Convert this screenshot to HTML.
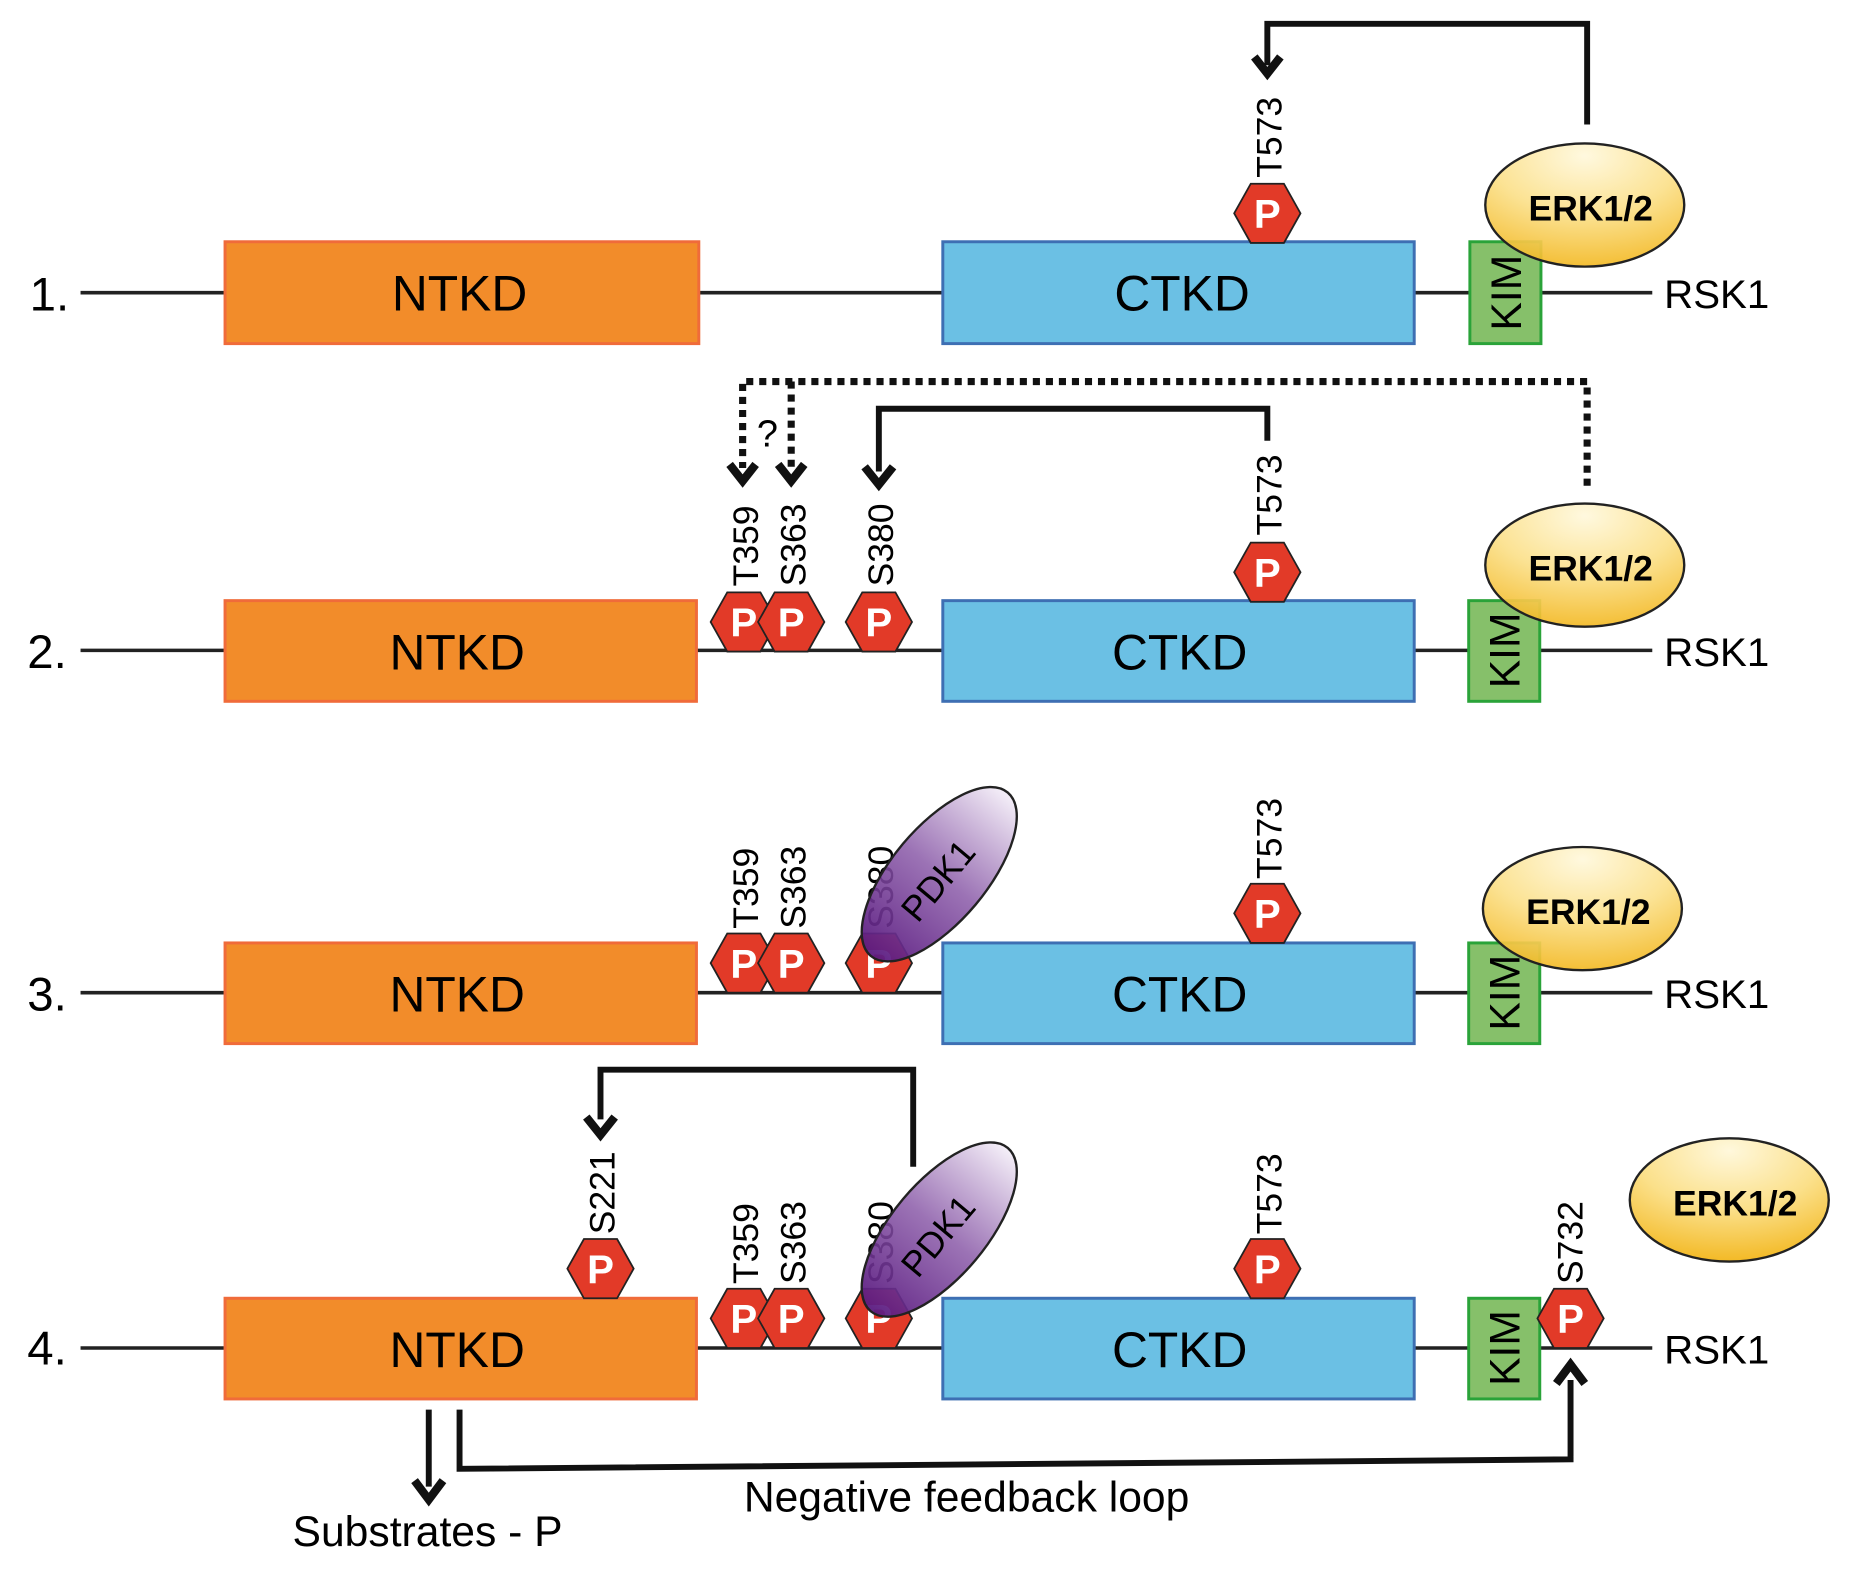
<!DOCTYPE html>
<html><head><meta charset="utf-8"><style>
html,body{margin:0;padding:0;background:#fff;}
svg{display:block;}
text{font-family:"Liberation Sans",sans-serif;}
</style></head><body>
<svg width="1856" height="1572" viewBox="0 0 1567 1327" xmlns="http://www.w3.org/2000/svg">
<defs>
<radialGradient id="erk" cx="0.5" cy="0.1" r="0.95">
<stop offset="0" stop-color="#fff8dc"/><stop offset="0.5" stop-color="#fbe08a"/><stop offset="1" stop-color="#f2b51a"/></radialGradient>
<linearGradient id="pdk" x1="0" y1="0" x2="1" y2="0">
<stop offset="0" stop-color="#5a1a80" stop-opacity="0.95"/><stop offset="0.5" stop-color="#8a5aa8" stop-opacity="0.85"/><stop offset="1" stop-color="#f4eef8" stop-opacity="0.9"/></linearGradient>
<symbol id="hex" viewBox="-30 -27 60 54" overflow="visible">
<polygon points="-28,0 -14,-25 14,-25 28,0 14,25 -14,25" fill="#e23a28" stroke="#222" stroke-width="1.5"/>
<text x="0" y="12" text-anchor="middle" font-size="34" font-weight="bold" fill="#fff">P</text>
</symbol>
</defs>
<g stroke="#222" stroke-width="3">
<line x1="68" y1="247" x2="1395" y2="247"/>
<line x1="68" y1="549" x2="1395" y2="549"/>
<line x1="68" y1="838" x2="1395" y2="838"/>
<line x1="68" y1="1138" x2="1395" y2="1138"/>
</g>
<g font-size="40">
<text x="25" y="262">1.</text><text x="23" y="564">2.</text><text x="23" y="853">3.</text><text x="23" y="1152">4.</text>
</g>
<g font-size="34">
<text x="1405" y="260">RSK1</text><text x="1405" y="562">RSK1</text><text x="1405" y="851">RSK1</text><text x="1405" y="1151">RSK1</text>
</g>
<g stroke="#f06b3a" stroke-width="2.5" fill="#f28c2a">
<rect x="190" y="204" width="400" height="86"/><rect x="190" y="507" width="398" height="85"/><rect x="190" y="796" width="398" height="85"/><rect x="190" y="1096" width="398" height="85"/>
</g>
<g stroke="#3e6fb3" stroke-width="2.5" fill="#6bc0e4">
<rect x="796" y="204" width="398" height="86"/><rect x="796" y="507" width="398" height="85"/><rect x="796" y="796" width="398" height="85"/><rect x="796" y="1096" width="398" height="85"/>
</g>
<g font-size="42" text-anchor="middle">
<text x="388" y="262">NTKD</text><text x="386" y="565">NTKD</text><text x="386" y="854">NTKD</text><text x="386" y="1154">NTKD</text>
<text x="998" y="262">CTKD</text><text x="996" y="565">CTKD</text><text x="996" y="854">CTKD</text><text x="996" y="1154">CTKD</text>
</g>
<g stroke="#2aa339" stroke-width="2.5" fill="#86c06a">
<rect x="1241" y="204" width="60" height="86"/><rect x="1240" y="507" width="60" height="85"/><rect x="1240" y="796" width="60" height="85"/><rect x="1240" y="1096" width="60" height="85"/>
</g>
<g font-size="36" text-anchor="middle">
<text transform="translate(1284,247) rotate(-90)">KIM</text>
<text transform="translate(1283,549) rotate(-90)">KIM</text>
<text transform="translate(1283,838) rotate(-90)">KIM</text>
<text transform="translate(1283,1138) rotate(-90)">KIM</text>
</g>

<g stroke="#222" stroke-width="2">
<ellipse cx="1338" cy="173" rx="84" ry="52" fill="url(#erk)" fill-opacity="0.92"/>
<ellipse cx="1338" cy="477" rx="84" ry="52" fill="url(#erk)" fill-opacity="0.92"/>
<ellipse cx="1336" cy="767" rx="84" ry="52" fill="url(#erk)" fill-opacity="0.92"/>
<ellipse cx="1460" cy="1013" rx="84" ry="52" fill="url(#erk)"/>
</g>
<g font-size="30" font-weight="bold" text-anchor="middle">
<text x="1343" y="186">ERK1/2</text><text x="1343" y="490">ERK1/2</text><text x="1341" y="780">ERK1/2</text><text x="1465" y="1026">ERK1/2</text>
</g>

<g>
<use href="#hex" x="1040" y="153" width="60" height="54"/>
<use href="#hex" x="1040" y="456" width="60" height="54"/>
<use href="#hex" x="598" y="498" width="60" height="54"/>
<use href="#hex" x="638" y="498" width="60" height="54"/>
<use href="#hex" x="712" y="498" width="60" height="54"/>
<use href="#hex" x="1040" y="744" width="60" height="54"/>
<use href="#hex" x="598" y="786" width="60" height="54"/>
<use href="#hex" x="638" y="786" width="60" height="54"/>
<use href="#hex" x="712" y="786" width="60" height="54"/>
<use href="#hex" x="477" y="1044" width="60" height="54"/>
<use href="#hex" x="1040" y="1044" width="60" height="54"/>
<use href="#hex" x="598" y="1086" width="60" height="54"/>
<use href="#hex" x="638" y="1086" width="60" height="54"/>
<use href="#hex" x="712" y="1086" width="60" height="54"/>
<use href="#hex" x="1296" y="1086" width="60" height="54"/>
</g>

<g font-size="30">
<text transform="translate(1082,150) rotate(-90)">T573</text>
<text transform="translate(1082,452) rotate(-90)">T573</text>
<text transform="translate(640,495) rotate(-90)">T359</text>
<text transform="translate(680,495) rotate(-90)">S363</text>
<text transform="translate(754,495) rotate(-90)">S380</text>
<text transform="translate(1082,742) rotate(-90)">T573</text>
<text transform="translate(640,784) rotate(-90)">T359</text>
<text transform="translate(680,784) rotate(-90)">S363</text>
<text transform="translate(754,784) rotate(-90)">S380</text>
<text transform="translate(519,1042) rotate(-90)">S221</text>
<text transform="translate(1082,1042) rotate(-90)">T573</text>
<text transform="translate(640,1084) rotate(-90)">T359</text>
<text transform="translate(680,1084) rotate(-90)">S363</text>
<text transform="translate(754,1084) rotate(-90)">S380</text>
<text transform="translate(1336,1084) rotate(-90)">S732</text>
</g>

<g>
<ellipse cx="0" cy="0" rx="90" ry="40" transform="translate(793,738) rotate(-50)" fill="url(#pdk)" stroke="#222" stroke-width="2"/>
<text font-size="30" text-anchor="middle" transform="translate(800,750) rotate(-50)">PDK1</text>
<ellipse cx="0" cy="0" rx="90" ry="40" transform="translate(793,1038) rotate(-50)" fill="url(#pdk)" stroke="#222" stroke-width="2"/>
<text font-size="30" text-anchor="middle" transform="translate(800,1050) rotate(-50)">PDK1</text>
</g>

<g fill="none" stroke="#111" stroke-width="5">
<polyline points="1340,105 1340,20 1070,20 1070,55"/>
<polyline points="1070,372 1070,345 742,345 742,398"/>
<polyline points="771,985 771,903 507,903 507,945"/>
<line x1="362" y1="1190" x2="362" y2="1255"/>
<polyline points="388,1190 388,1240 1326,1232 1326,1165"/>
</g>
<g fill="none" stroke="#111" stroke-width="6" stroke-dasharray="6,5">
<polyline points="1340,410 1340,322 627,322 627,395"/>
<polyline points="668,322 668,395"/>
</g>
<g fill="none" stroke="#111" stroke-width="7">
<path d="M1059,48 L1070,62 L1081,48"/>
<path d="M616,392 L627,406 L638,392"/>
<path d="M657,392 L668,406 L679,392"/>
<path d="M730,394 L742,409 L754,394"/>
<path d="M495,943 L507,958 L519,943"/>
<path d="M350,1250 L362,1266 L374,1250"/>
<path d="M1314,1168 L1326,1152 L1338,1168"/>
</g>
<text x="639" y="377" font-size="32">?</text>
<text x="628" y="1276" font-size="36">Negative feedback loop</text>
<text x="247" y="1305" font-size="36">Substrates - P</text>
</svg>
</body></html>
